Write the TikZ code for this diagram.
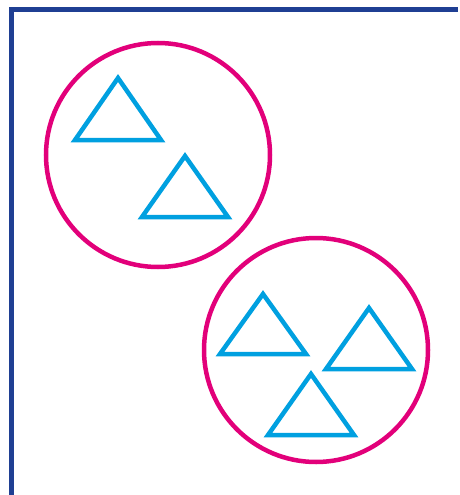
\documentclass[tikz,border=0pt]{standalone}
\definecolor{framec}{HTML}{1F3F93}
\definecolor{circc}{HTML}{E2007A}
\definecolor{tric}{HTML}{00A0E0}
\begin{document}
\begin{tikzpicture}[x=1pt,y=-1pt,
  framel/.style={draw=framec,line width=5pt},
  circl/.style={draw=circc,line width=4.5pt},
  tril/.style={draw=tric,line width=4.5pt,line join=miter}]
\useasboundingbox (0,0) rectangle (459,495);
\draw[framel] (11.5,495) -- (11.5,9.5) -- (458,9.5);
\draw[circl] (158,155) circle (112);
\draw[circl] (316,350) circle (112);
\newcommand{\tri}[3]{\draw[tril] (#1,#2) -- (#1-43,#3) -- (#1+43,#3) -- cycle;}
\tri{118}{78}{140}
\tri{185}{156}{217}
\tri{263}{294}{354}
\tri{369}{308}{369}
\tri{311}{374}{435}
\end{tikzpicture}
\end{document}
